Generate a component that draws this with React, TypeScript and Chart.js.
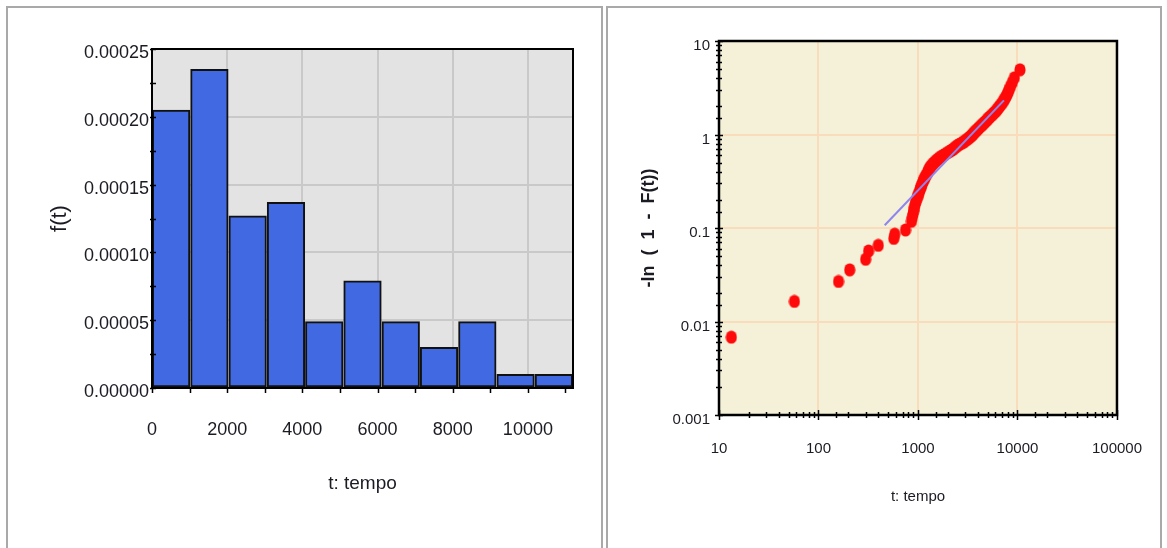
import React, { useEffect, useRef } from 'react';
import { Chart, registerables } from 'chart.js';

Chart.register(...registerables);
Chart.defaults.font.family = '"Liberation Sans", Arial, sans-serif';

// ---------- Left panel: histogram ----------
const histBinCenters = [509, 1527, 2545, 3564, 4582, 5600, 6618, 7636, 8655, 9673, 10691];
const histDensity = [0.000205, 0.000235, 0.000127, 0.000137, 0.000049, 0.000079, 0.000049, 0.00003, 0.000049, 0.00001, 0.00001];
const histXTickValues = [0, 1000, 2000, 3000, 4000, 5000, 6000, 7000, 8000, 9000, 10000, 11000];
const histXTickLabels = ['0', '', '2000', '', '4000', '', '6000', '', '8000', '', '10000', ''];
const histYTickLabels = ['0.00000', '0.00005', '0.00010', '0.00015', '0.00020', '0.00025'];
const histXMax = 11200;

// ---------- Right panel: log-log plot ----------
const plotT = [
  13.3, 57.3, 159, 206, 298, 319, 399, 571, 584, 750,
  860, 875, 890, 905, 920, 935, 950, 970, 990, 1010,
  1030, 1045, 1065, 1080, 1100, 1120, 1140, 1160, 1185, 1210,
  1240, 1260, 1280, 1300, 1325, 1360, 1400, 1440, 1490, 1540,
  1600, 1660, 1730, 1820, 1910, 2000, 2100, 2200, 2280, 2360,
  2440, 2530, 2650, 2780, 2900, 3010, 3120, 3230, 3340, 3440,
  3520, 3600, 3680, 3780, 3880, 3990, 4100, 4220, 4340, 4460,
  4580, 4720, 4860, 5000, 5100, 5280, 5450, 5620, 5800, 5980,
  6150, 6320, 6480, 6680, 6880, 7080, 7250, 7420, 7650, 7850,
  8050, 8250, 8500, 8850, 9300, 10600,
];
const plotY = [
  0.0068, 0.0164, 0.0268, 0.0357, 0.0463, 0.0568, 0.0652, 0.0774, 0.0859, 0.0952,
  0.118, 0.129, 0.141, 0.153, 0.165, 0.178, 0.190, 0.203, 0.216, 0.229,
  0.242, 0.255, 0.269, 0.282, 0.296, 0.310, 0.324, 0.339, 0.353, 0.368,
  0.384, 0.399, 0.414, 0.430, 0.446, 0.463, 0.479, 0.496, 0.513, 0.531,
  0.549, 0.567, 0.585, 0.604, 0.623, 0.643, 0.663, 0.683, 0.704, 0.725,
  0.746, 0.769, 0.791, 0.814, 0.838, 0.862, 0.887, 0.913, 0.939, 0.966,
  0.993, 1.02, 1.05, 1.08, 1.11, 1.14, 1.18, 1.21, 1.25, 1.28,
  1.32, 1.36, 1.40, 1.45, 1.49, 1.54, 1.59, 1.64, 1.70, 1.75,
  1.81, 1.88, 1.95, 2.03, 2.11, 2.20, 2.30, 2.41, 2.53, 2.67,
  2.83, 3.02, 3.26, 3.58, 4.04, 4.92,
];
const fitT = [463, 7310];
const fitY = [0.107, 2.32];
const logXTickLabels = ['10', '100', '1000', '10000', '100000'];
const logYTickLabels = ['0.001', '0.01', '0.1', '1', '10'];

const TEXT = '#1b1b24';

const isPow10 = (v: number) => {
  const l = Math.log10(v);
  return Math.abs(l - Math.round(l)) < 1e-6;
};

const histFrame = {
  id: 'histFrame',
  beforeDraw(chart: any) {
    const { ctx, chartArea: a } = chart;
    ctx.save();
    ctx.fillStyle = '#e3e3e3';
    ctx.fillRect(a.left, a.top, a.right - a.left, a.bottom - a.top);
    ctx.restore();
  },
  afterDraw(chart: any) {
    const { ctx, chartArea: a, scales } = chart;
    ctx.save();
    ctx.strokeStyle = '#000';
    ctx.lineWidth = 1.5;
    scales.x.ticks.forEach((t: any) => {
      const p = Math.round(scales.x.getPixelForValue(t.value)) + 0.5;
      ctx.beginPath();
      ctx.moveTo(p, a.bottom);
      ctx.lineTo(p, a.bottom + 5);
      ctx.stroke();
    });
    scales.y.ticks.forEach((t: any) => {
      const p = Math.round(scales.y.getPixelForValue(t.value)) + 0.5;
      ctx.beginPath();
      ctx.moveTo(a.left - 2, p);
      ctx.lineTo(a.left + 4, p);
      ctx.stroke();
    });
    ctx.lineWidth = 2;
    ctx.strokeRect(a.left, a.top, a.right - a.left, a.bottom - a.top);
    ctx.restore();
  },
};

const logFrame = {
  id: 'logFrame',
  beforeDraw(chart: any) {
    const { ctx, chartArea: a } = chart;
    ctx.save();
    ctx.fillStyle = '#f4f1d8';
    ctx.fillRect(a.left, a.top, a.right - a.left, a.bottom - a.top);
    ctx.restore();
  },
  afterDraw(chart: any) {
    const { ctx, chartArea: a, scales } = chart;
    ctx.save();
    ctx.strokeStyle = '#000';
    ctx.lineWidth = 1.5;
    scales.x.ticks.forEach((t: any) => {
      const p = Math.round(scales.x.getPixelForValue(t.value)) + 0.5;
      const l = isPow10(t.value) ? 5 : 3;
      ctx.beginPath();
      ctx.moveTo(p, a.bottom - l);
      ctx.lineTo(p, a.bottom + l);
      ctx.stroke();
    });
    scales.y.ticks.forEach((t: any) => {
      const p = Math.round(scales.y.getPixelForValue(t.value)) + 0.5;
      const l = isPow10(t.value) ? 4 : 3;
      ctx.beginPath();
      ctx.moveTo(a.left - l, p);
      ctx.lineTo(a.left + l, p);
      ctx.stroke();
    });
    ctx.lineWidth = 2.5;
    ctx.strokeRect(a.left, a.top, a.right - a.left, a.bottom - a.top);
    ctx.restore();
  },
};

function makeDot(): HTMLCanvasElement {
  const c = document.createElement('canvas');
  c.width = 12;
  c.height = 14;
  const g = c.getContext('2d') as CanvasRenderingContext2D;
  g.fillStyle = '#ff0a0a';
  g.beginPath();
  g.ellipse(6, 7, 5.6, 6.6, 0, 0, Math.PI * 2);
  g.fill();
  return c;
}

export default function App() {
  const leftRef = useRef<HTMLCanvasElement>(null);
  const rightRef = useRef<HTMLCanvasElement>(null);

  useEffect(() => {
    const histChart = new Chart(leftRef.current as HTMLCanvasElement, {
      type: 'bar',
      data: {
        datasets: [
          {
            data: histBinCenters.map((x, i) => ({ x, y: histDensity[i] })),
            backgroundColor: '#4169e1',
            borderColor: '#111111',
            borderWidth: 2,
            borderSkipped: false,
            barPercentage: 1,
            categoryPercentage: 1,
          },
        ],
      },
      options: {
        responsive: false,
        animation: false,
        events: [],
        layout: { padding: { top: 49, right: 29, left: 0, bottom: 0 } },
        plugins: { legend: { display: false }, tooltip: { enabled: false } },
        scales: {
          x: {
            type: 'linear',
            min: 0,
            max: histXMax,
            offset: false,
            afterBuildTicks: (s: any) => {
              s.ticks = histXTickValues.map((v) => ({ value: v }));
            },
            afterFit: (s: any) => {
              s.height = 160;
            },
            grid: {
              offset: false,
              drawTicks: false,
              lineWidth: 2,
              color: (c: any) => {
                const i = c.index;
                return c.tick && i > 0 && histXTickLabels[i] ? '#c9c9c9' : 'rgba(0,0,0,0)';
              },
            },
            border: { display: false },
            ticks: {
              autoSkip: false,
              maxRotation: 0,
              padding: 31,
              color: TEXT,
              font: { size: 18 },
              callback: (_v: any, i: number) => histXTickLabels[i] || '',
            },
            title: {
              display: true,
              text: 't: tempo',
              color: TEXT,
              font: { size: 19 },
              padding: { top: 0, bottom: 53 },
            },
          },
          y: {
            type: 'linear',
            min: 0,
            max: 0.00025,
            afterFit: (s: any) => {
              s.width = 152;
            },
            grid: {
              drawTicks: false,
              lineWidth: 2,
              color: (c: any) =>
                c.tick && c.index > 0 && c.index % 2 === 0 ? '#c9c9c9' : 'rgba(0,0,0,0)',
            },
            border: { display: false },
            ticks: {
              stepSize: 0.000025,
              autoSkip: false,
              padding: 3,
              labelOffset: 4,
              color: TEXT,
              font: { size: 18 },
              callback: (_v: any, i: number) => (i % 2 === 0 ? histYTickLabels[i / 2] : ''),
            },
            title: {
              display: true,
              text: 'f(t)',
              color: TEXT,
              font: { size: 22 },
              padding: { top: 47, bottom: 0 },
            },
          },
        },
      },
      plugins: [histFrame],
    } as any);

    const dot = makeDot();

    const logChart = new Chart(rightRef.current as HTMLCanvasElement, {
      type: 'scatter',
      data: {
        datasets: [
          {
            data: fitT.map((x, i) => ({ x, y: fitY[i] })),
            showLine: true,
            borderColor: '#8c86ee',
            borderWidth: 2,
            pointRadius: 0,
            order: 0,
          },
          {
            data: plotT.map((x, i) => ({ x, y: plotY[i] })),
            backgroundColor: '#ff0000',
            borderWidth: 0,
            pointRadius: 6,
            pointStyle: dot,
            order: 1,
          },
        ],
      },
      options: {
        responsive: false,
        animation: false,
        events: [],
        layout: { padding: { top: 41, right: 47, left: 0, bottom: 0 } },
        plugins: { legend: { display: false }, tooltip: { enabled: false } },
        scales: {
          x: {
            type: 'logarithmic',
            min: 10,
            max: 100000,
            afterFit: (s: any) => {
              s.height = 133;
            },
            grid: {
              drawTicks: false,
              lineWidth: 2,
              color: (c: any) =>
                c.tick && isPow10(c.tick.value) && c.tick.value > 10 && c.tick.value < 100000
                  ? '#f8dcbc'
                  : 'rgba(0,0,0,0)',
            },
            border: { display: false },
            ticks: {
              autoSkip: false,
              maxRotation: 0,
              padding: 25,
              color: TEXT,
              font: { size: 15 },
              callback: (v: any) => {
                const n = Number(v);
                return isPow10(n) ? logXTickLabels[Math.round(Math.log10(n)) - 1] : '';
              },
            },
            title: {
              display: true,
              text: 't: tempo',
              color: TEXT,
              font: { size: 15 },
              padding: { top: 0, bottom: 42 },
            },
          },
          y: {
            type: 'logarithmic',
            min: 0.001,
            max: 10,
            afterFit: (s: any) => {
              s.width = 112;
            },
            grid: {
              drawTicks: false,
              lineWidth: 2,
              color: (c: any) =>
                c.tick && isPow10(c.tick.value) && c.tick.value > 0.0011 && c.tick.value < 9
                  ? '#f8dcbc'
                  : 'rgba(0,0,0,0)',
            },
            border: { display: false },
            ticks: {
              autoSkip: false,
              padding: 9,
              labelOffset: 5,
              color: TEXT,
              font: { size: 15 },
              callback: (v: any) => {
                const n = Number(v);
                return isPow10(n) ? logYTickLabels[Math.round(Math.log10(n)) + 3] : '';
              },
            },
            title: {
              display: true,
              text: '-ln  (  1  -  F(t))',
              color: TEXT,
              font: { size: 18, weight: 'bold' },
              padding: { top: 31, bottom: 0 },
            },
          },
        },
      },
      plugins: [logFrame],
    } as any);

    return () => {
      histChart.destroy();
      logChart.destroy();
    };
  }, []);

  return (
    <div
      style={{
        position: 'fixed',
        left: 0,
        top: 0,
        width: 1167,
        height: 548,
        background: '#ffffff',
        overflow: 'hidden',
      }}
    >
      <div
        style={{
          position: 'absolute',
          left: 6,
          top: 6,
          width: 597,
          height: 600,
          boxSizing: 'border-box',
          border: '2px solid #a9a9a9',
        }}
      />
      <div
        style={{
          position: 'absolute',
          left: 606,
          top: 6,
          width: 556,
          height: 600,
          boxSizing: 'border-box',
          border: '2px solid #a9a9a9',
        }}
      />
      <canvas
        ref={leftRef}
        width={602}
        height={548}
        style={{ position: 'absolute', left: 0, top: 0, width: 602, height: 548 }}
      />
      <canvas
        ref={rightRef}
        width={560}
        height={548}
        style={{ position: 'absolute', left: 607, top: 0, width: 560, height: 548 }}
      />
    </div>
  );
}
